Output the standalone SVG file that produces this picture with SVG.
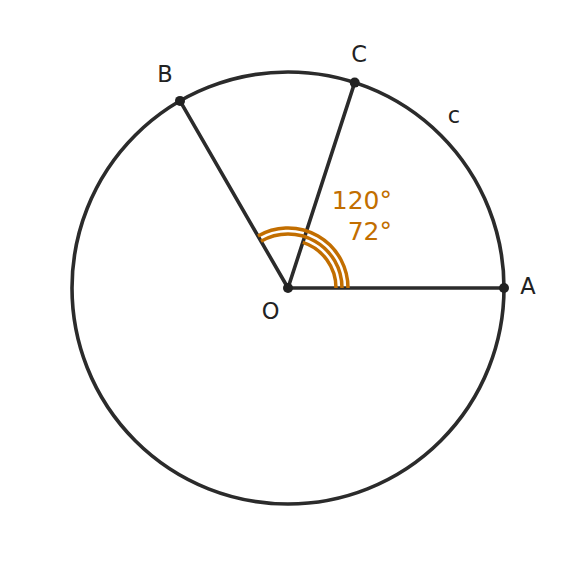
<svg xmlns="http://www.w3.org/2000/svg" width="576" height="576" viewBox="0 0 576 576">
<style>
.ln{stroke:#2b2b2b;stroke-width:3.6;fill:none;stroke-linecap:round}
.arc{stroke:#c26e00;stroke-width:3.5;fill:none}
.dot{fill:#222}
.lbl{font-family:"DejaVu Sans",sans-serif;font-size:22.5px;fill:#222;text-anchor:middle}
.ang{font-family:"DejaVu Sans",sans-serif;font-size:25px;fill:#c26e00;text-anchor:end}
</style>
<rect width="576" height="576" fill="#fff"/>
<g id="circle"><circle class="ln" cx="288" cy="288" r="216"/></g>
<g id="connectors">
<line class="ln" x1="288" y1="288" x2="504" y2="288"/>
<line class="ln" x1="288" y1="288" x2="354.7" y2="82.6"/>
<line class="ln" x1="288" y1="288" x2="180" y2="100.9"/>
</g>
<g id="angles">
<path class="arc" d="M336 288 A48 48 0 0 0 302.8 242.35"/>
<path class="arc" d="M342 288 A54 54 0 0 0 261 241.23"/>
<path class="arc" d="M348 288 A60 60 0 0 0 258 236.04"/>
<text class="ang" x="392" y="208.5">120°</text>
<text class="ang" x="392" y="240">72°</text>
</g>
<g id="O"><circle class="dot" cx="288" cy="288" r="5"/><text class="lbl" x="270.5" y="318.5">O</text></g>
<g id="A"><circle class="dot" cx="504" cy="288" r="5"/><text class="lbl" x="528" y="293.5">A</text></g>
<g id="C"><circle class="dot" cx="354.7" cy="82.6" r="5"/><text class="lbl" x="359" y="62">C</text></g>
<g id="B"><circle class="dot" cx="180" cy="100.9" r="5"/><text class="lbl" x="165" y="82">B</text></g>
<g id="c"><text class="lbl" x="454" y="123">c</text></g>
</svg>
